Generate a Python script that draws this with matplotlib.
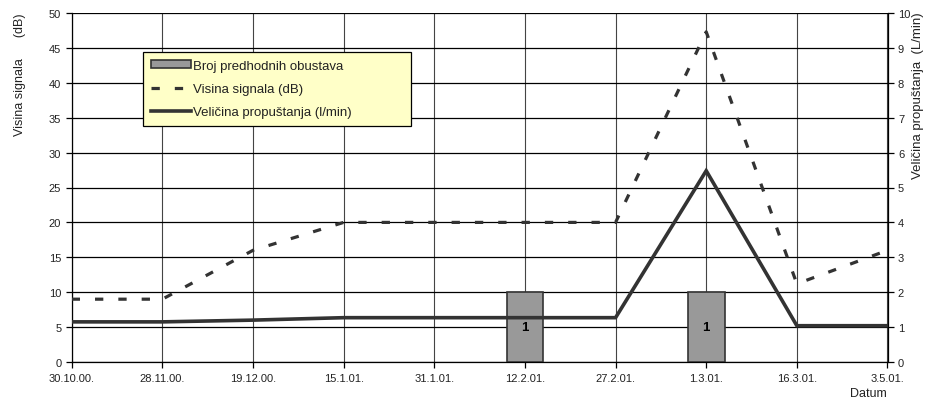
import matplotlib
matplotlib.use("Agg")
import matplotlib.pyplot as plt
from matplotlib.patches import Patch
from matplotlib.lines import Line2D

plt.rcParams['font.family'] = ['Liberation Sans', 'DejaVu Sans']

# Measurement dates
dates = ["30.10.00.", "28.11.00.", "19.12.00.", "15.1.01.", "31.1.01.",
         "12.2.01.", "27.2.01.", "1.3.01.", "16.3.01.", "3.5.01."]
# Signal level (dB), left axis
signal_db = [9, 9, 16, 20, 20, 20, 20, 47.3, 11.2, 16]
# Leakage rate (L/min), right axis
leak_lpm = [1.15, 1.15, 1.2, 1.27, 1.27, 1.27, 1.27, 5.48, 1.04, 1.04]
# Number of previous shutdowns, drawn at the dates where they occurred
stop_dates = ["12.2.01.", "1.3.01."]
stop_counts = [1, 1]

W, H = 933, 402
fig = plt.figure(figsize=(W / 100, H / 100), dpi=100)
x0, x1, y0, y1 = 71.7, 887.5, 14, 363
rect = [x0 / W, 1 - y1 / H, (x1 - x0) / W, (y1 - y0) / H]

line_col = "#333333"
txt_col = "#222222"

ax = fig.add_axes(rect)
xs = list(range(len(dates)))
ax.set_xlim(0, len(dates) - 1)
ax.set_ylim(0, 50)
ax.set_yticks(range(0, 51, 5))
ax.set_xticks(xs)
ax.set_xticklabels(dates)
ax.grid(axis="y", color="black", lw=0.9)
ax.grid(axis="x", color="#444444", lw=0.8)
ax.set_axisbelow(True)
ax.tick_params(axis="both", direction="out", length=4, width=0.9,
               labelsize=8, labelcolor=txt_col, color="black")
ax.tick_params(axis="x", pad=4)
for s in ("top", "right"):
    ax.spines[s].set_visible(False)
for s in ("left", "bottom"):
    ax.spines[s].set_color("black")
    ax.spines[s].set_linewidth(0.9)

# Bars on their own scale (0-5)
ax_bar = ax.twinx()
ax_bar.set_ylim(0, 5)
bar_x = [dates.index(d) for d in stop_dates]
ax_bar.bar(bar_x, stop_counts, width=0.405, color="#999999",
           edgecolor="#333333", linewidth=1.2)
for bx, c in zip(bar_x, stop_counts):
    ax_bar.text(bx, c / 2, str(c), ha="center", va="center",
                fontsize=9.5, fontweight="bold", color="black")
ax_bar.axis("off")

# Signal level line (dB)
ax_sig = ax.twinx()
ax_sig.set_ylim(0, 50)
ax_sig.plot(xs, signal_db, color=line_col, lw=2.3, linestyle=(0, (2.6, 4.7)),
            solid_capstyle="butt", dash_capstyle="butt")
ax_sig.axis("off")

# Leakage rate line (L/min), right axis
ax_r = ax.twinx()
ax_r.set_ylim(0, 10)
ax_r.set_yticks(range(0, 11))
ax_r.plot(xs, leak_lpm, color=line_col, lw=2.6, solid_joinstyle="miter")
ax_r.tick_params(axis="y", direction="out", length=4, width=0.9,
                 labelsize=8, labelcolor=txt_col, color="black")
for s in ("top", "left", "bottom"):
    ax_r.spines[s].set_visible(False)
ax_r.spines["right"].set_color("black")
ax_r.spines["right"].set_linewidth(0.9)

handles = [
    Patch(facecolor="#999999", edgecolor="#333333", linewidth=1.2),
    Line2D([], [], color=line_col, lw=2.3, linestyle=(0, (2.6, 4.7))),
    Line2D([], [], color=line_col, lw=2.6),
]
labels = ["Broj predhodnih obustava", "Visina signala (dB)",
          "Veličina propuštanja (l/min)"]
lx0 = (143 - x0) / (x1 - x0)
lw_ = (411 - 143) / (x1 - x0)
ly1 = (y1 - 53) / (y1 - y0)
lh = (127 - 53) / (y1 - y0)
leg = ax_r.legend(handles, labels, loc="upper left",
                  bbox_to_anchor=(lx0, ly1 - lh, lw_, lh), mode="expand",
                  fontsize=9.5, frameon=True, fancybox=False, shadow=False,
                  handlelength=3.0, handleheight=0.5, handletextpad=0.2,
                  labelspacing=0.85, borderpad=0.6, borderaxespad=0,
                  labelcolor=txt_col)
leg.get_frame().set_facecolor("#FFFFC8")
leg.get_frame().set_edgecolor("black")
leg.get_frame().set_linewidth(0.9)
leg.get_frame().set_alpha(1)

# Axis titles
fig.text(20 / W, 1 - 13 / H, "Visina signala      (dB)", rotation=90,
         ha="center", va="top", fontsize=9, color=txt_col)
fig.text(918 / W, 1 - 12 / H, "Veličina propuštanja  (L/min)", rotation=90,
         ha="center", va="top", fontsize=9.5, color=txt_col)
fig.text(868 / W, 1 - 394 / H, "Datum", ha="center", va="center",
         fontsize=9, color=txt_col)

fig.savefig("out.png", dpi=100)
